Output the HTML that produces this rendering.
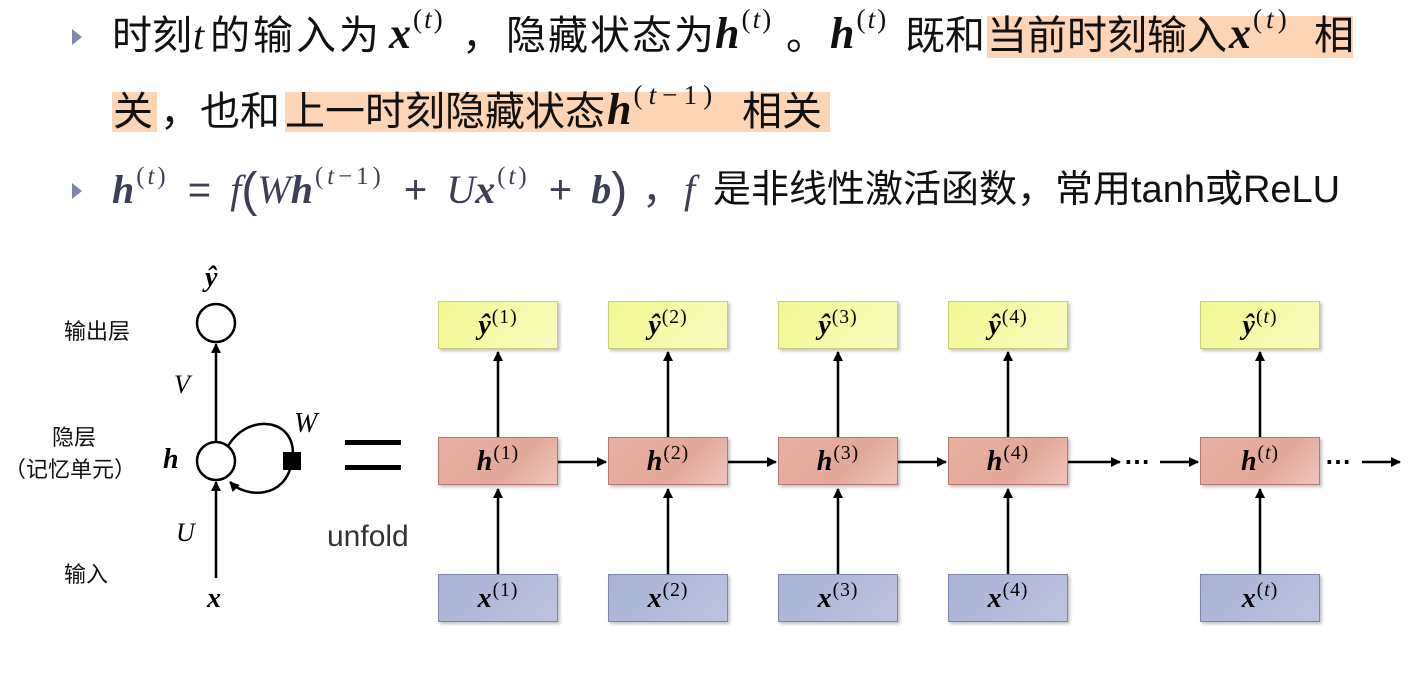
<!DOCTYPE html>
<html><head><meta charset="utf-8"><style>
body{margin:0;width:1412px;height:682px;background:#fff;position:relative;overflow:hidden;font-family:"Liberation Sans","Noto Sans CJK SC",sans-serif;}
.a{position:absolute;white-space:nowrap;}
.t{font-size:40px;color:#111;line-height:44px}
.m{font-family:"Liberation Serif","DejaVu Serif",serif;font-style:italic;}
.b{font-weight:bold;}
sup{font-size:0.62em;font-style:normal;font-family:"Liberation Serif",serif;font-weight:normal;vertical-align:0.75em;line-height:0;letter-spacing:2px;margin-left:2px}
sup i{font-style:italic}
.hl{position:absolute;background:#fdd5b4;}
.tri{position:absolute;width:0;height:0;border-top:8px solid transparent;border-bottom:8px solid transparent;border-left:10px solid #7e86ad;}
.box{position:absolute;width:120px;height:48px;box-sizing:border-box;text-align:center;line-height:48px;font-size:28px;font-family:"Liberation Serif",serif;font-weight:bold;font-style:italic;box-shadow:2px 2px 3px rgba(0,0,0,.25);}
.y{background:linear-gradient(135deg,#f3f78e,#f8fbbf);border:1px solid #c9cd7a;top:301px}
.h{background:linear-gradient(135deg,#e9b0a2,#e2a899 60%,#eec6ba);border:1px solid #b9796a;top:437px}
.x{background:linear-gradient(135deg,#a9b2d6,#bcc3e0);border:1px solid #7d86b0;top:574px}
.box sup{font-size:0.7em;font-weight:normal;font-style:normal;vertical-align:0.55em;letter-spacing:1px;margin-left:1px}
.lbl{font-size:22px;color:#111}
.M{font-size:44px}
.f{font-size:40px;color:#3c3f55;line-height:44px}
</style></head><body>
<div class="hl" style="left:987px;top:16px;width:366px;height:42px"></div>
<div class="hl" style="left:112px;top:92px;width:45px;height:40px"></div>
<div class="hl" style="left:285px;top:92px;width:545px;height:40px"></div>
<div class="tri" style="left:72px;top:29px"></div>
<div class="tri" style="left:72px;top:183px"></div>
<!-- line 1 -->
<div class="a t" style="left:112px;top:14px">时刻</div>
<div class="a t m" style="left:193px;top:14px">t</div>
<div class="a t" style="left:210px;top:14px;letter-spacing:3px">的输入为</div>
<div class="a t M" style="left:389px;top:12px"><span class="m b">x</span><sup>(<i>t</i>)</sup></div>
<div class="a t" style="left:462px;top:14px">，</div>
<div class="a t" style="left:506px;top:14px;letter-spacing:2px">隐藏状态为</div>
<div class="a t M" style="left:715px;top:12px"><span class="m b">h</span><sup>(<i>t</i>)</sup></div>
<div class="a t" style="left:786px;top:14px">。</div>
<div class="a t M" style="left:830px;top:12px"><span class="m b">h</span><sup>(<i>t</i>)</sup></div>
<div class="a t" style="left:905px;top:14px">既和</div>
<div class="a t" style="left:987px;top:14px">当前时刻输入</div>
<div class="a t M" style="left:1229px;top:12px"><span class="m b">x</span><sup style="letter-spacing:4px">(<i>t</i>)</sup></div>
<div class="a t" style="left:1314px;top:14px">相</div>
<!-- line 2 -->
<div class="a t" style="left:113px;top:90px">关</div>
<div class="a t" style="left:160px;top:90px">，也和</div>
<div class="a t" style="left:285px;top:90px">上一时刻隐藏状态</div>
<div class="a t M" style="left:607px;top:88px"><span class="m b">h</span><sup style="letter-spacing:6px">(<i>t</i>−1)</sup></div>
<div class="a t" style="left:742px;top:90px">相关</div>
<!-- line 3 -->
<div class="a f" style="left:112px;top:168px;word-spacing:8px"><span class="m b">h</span><sup style="letter-spacing:3px">(<i>t</i>)</sup> = <span class="m">f</span><span style="font-size:48px;vertical-align:-3px">(</span><span class="m">W</span><span class="m b">h</span><sup style="letter-spacing:4px">(<i>t</i>−1)</sup> + <span class="m">U</span><span class="m b">x</span><sup style="letter-spacing:3px">(<i>t</i>)</sup> + <span class="m b">b</span><span style="font-size:48px;vertical-align:-3px">)</span></div>
<div class="a f" style="left:642px;top:168px">，</div>
<div class="a f m" style="left:684px;top:168px">f</div>
<div class="a" style="left:713px;top:168px;font-size:38px;line-height:44px;color:#111;letter-spacing:0px">是非线性激活函数，常用tanh或ReLU</div>

<svg class="a" style="left:0;top:0" width="1412" height="682">
<defs><marker id="ar" markerWidth="10" markerHeight="10" refX="9" refY="5" orient="auto" markerUnits="userSpaceOnUse"><path d="M0,0L10,5L0,10z" fill="#000"/></marker></defs>
<g stroke="#000" stroke-width="2.5" fill="none">
<circle cx="216" cy="323" r="19" fill="#fff"/>
<circle cx="216" cy="461" r="19" fill="#fff"/>
<line x1="216" y1="442" x2="216" y2="344" marker-end="url(#ar)"/>
<line x1="216" y1="578" x2="216" y2="482" marker-end="url(#ar)"/>
<path d="M228,446 C250,410 300,420 292,461 C286,500 245,498 230,482" marker-end="url(#ar)"/>
</g>
<rect x="283" y="452" width="18" height="18" fill="#000"/>
<rect x="345" y="440" width="56" height="5" fill="#000"/><rect x="345" y="465" width="56" height="5" fill="#000"/>
<g stroke="#000" stroke-width="2.5" fill="none">
<g id="c"><line x1="498" y1="574" x2="498" y2="489" marker-end="url(#ar)"/><line x1="498" y1="437" x2="498" y2="352" marker-end="url(#ar)"/></g>
<use href="#c" x="170"/><use href="#c" x="340"/><use href="#c" x="510"/><use href="#c" x="762"/>
<line x1="558" y1="462" x2="606" y2="462" marker-end="url(#ar)"/>
<line x1="728" y1="462" x2="776" y2="462" marker-end="url(#ar)"/>
<line x1="898" y1="462" x2="946" y2="462" marker-end="url(#ar)"/>
<line x1="1068" y1="462" x2="1120" y2="462" marker-end="url(#ar)"/>
<line x1="1160" y1="462" x2="1198" y2="462" marker-end="url(#ar)"/>
<line x1="1362" y1="462" x2="1400" y2="462" marker-end="url(#ar)"/>
</g>
<text x="1124" y="470" font-size="26" font-family="Liberation Sans" font-weight="bold">⋯</text>
<text x="1325" y="470" font-size="26" font-family="Liberation Sans" font-weight="bold">⋯</text>
</svg>

<div class="a m b" style="left:205px;top:262px;font-size:28px">ŷ</div>
<div class="a lbl" style="left:64px;top:314px">输出层</div>
<div class="a m" style="left:174px;top:370px;font-size:26px">V</div>
<div class="a lbl" style="left:52px;top:420px">隐层</div>
<div class="a lbl" style="left:4px;top:452px">（记忆单元）</div>
<div class="a m b" style="left:163px;top:444px;font-size:28px">h</div>
<div class="a m" style="left:294px;top:408px;font-size:28px">W</div>
<div class="a m" style="left:176px;top:518px;font-size:26px">U</div>
<div class="a lbl" style="left:64px;top:557px">输入</div>
<div class="a m b" style="left:207px;top:583px;font-size:28px">x</div>
<div class="a" style="left:327px;top:520px;font-size:30px;color:#333">unfold</div>

<div class="box y" style="left:438px">ŷ<sup>(1)</sup></div>
<div class="box y" style="left:608px">ŷ<sup>(2)</sup></div>
<div class="box y" style="left:778px">ŷ<sup>(3)</sup></div>
<div class="box y" style="left:948px">ŷ<sup>(4)</sup></div>
<div class="box y" style="left:1200px">ŷ<sup>(<i>t</i>)</sup></div>
<div class="box h" style="left:438px">h<sup>(1)</sup></div>
<div class="box h" style="left:608px">h<sup>(2)</sup></div>
<div class="box h" style="left:778px">h<sup>(3)</sup></div>
<div class="box h" style="left:948px">h<sup>(4)</sup></div>
<div class="box h" style="left:1200px">h<sup>(<i>t</i>)</sup></div>
<div class="box x" style="left:438px">x<sup>(1)</sup></div>
<div class="box x" style="left:608px">x<sup>(2)</sup></div>
<div class="box x" style="left:778px">x<sup>(3)</sup></div>
<div class="box x" style="left:948px">x<sup>(4)</sup></div>
<div class="box x" style="left:1200px">x<sup>(<i>t</i>)</sup></div>
</body></html>
